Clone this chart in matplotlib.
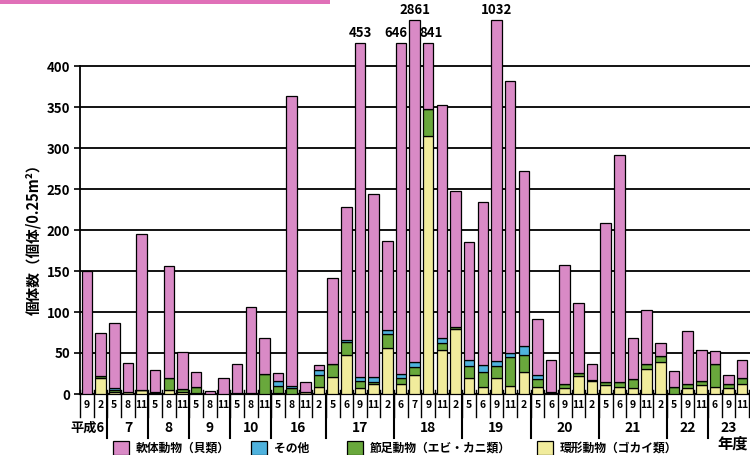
import numpy as np
import matplotlib
matplotlib.use('Agg')
import matplotlib.pyplot as plt
from matplotlib.patches import Rectangle

plt.rcParams['font.family'] = ['Noto Sans CJK JP', 'DejaVu Sans']

# 調査月と年度
months = ['9', '2', '5', '8', '11', '5', '8', '11', '5', '8', '11', '5', '8', '11',
          '5', '8', '11', '2', '5', '6', '9', '11', '2', '6', '7', '9', '11', '2',
          '5', '6', '9', '11', '2', '5', '6', '9', '11', '2', '5', '6', '9', '11', '2',
          '5', '9', '11', '6', '9', '11']
years = ['平成6', '7', '8', '9', '10', '16', '17', '18', '19', '20', '21', '22', '23']
year_n = [2, 3, 3, 3, 3, 4, 5, 5, 5, 5, 5, 3, 3]

# 個体数（個体/0.25m²）
kankei = [0, 20, 3, 2, 5, 1, 5, 2, 1, 0, 0, 0, 0, 0, 1, 0, 3, 9, 21, 48, 7, 12, 56, 12, 23,
          315, 54, 79, 19, 9, 20, 10, 27, 9, 1, 7, 22, 16, 11, 8, 7, 30, 39, 0, 7, 11, 8, 7, 12]
sessoku = [0, 2, 2, 0, 0, 1, 14, 4, 8, 0, 0, 1, 1, 24, 9, 7, 0, 14, 15, 16, 9, 3, 17, 8, 10,
           32, 8, 3, 15, 18, 14, 35, 20, 9, 1, 5, 4, 1, 4, 7, 11, 7, 7, 9, 5, 5, 29, 5, 8]
sonota = [0, 0, 2, 0, 0, 0, 0, 0, 0, 0, 0, 0, 0, 0, 6, 3, 0, 6, 0, 2, 5, 6, 5, 5, 6,
          0, 6, 0, 7, 8, 6, 5, 11, 5, 0, 0, 0, 0, 0, 0, 0, 0, 0, 0, 0, 0, 0, 0, 0]
nantai = [150, 53, 79, 36, 190, 27, 137, 45, 18, 4, 19, 36, 105, 44, 10, 353, 12, 6, 106, 162,
          432, 223, 109, 621, 2822, 494, 284, 166, 144, 199, 992, 332, 214, 69, 39, 145, 85, 20,
          194, 276, 50, 65, 16, 19, 65, 38, 16, 11, 21]

Y = np.array(kankei)
G = np.array(sessoku)
B = np.array(sonota)
P = np.array(nantai)
total = Y + G + B + P
# 400を超える棒は途中で切って数値を表示
shown = np.where(total > 1000, 456, np.where(total > 400, 428, total))
P_shown = shown - (Y + G + B)

c_pink = '#d98ac6'
c_blue = '#4fb2dd'
c_green = '#69a83c'
c_yellow = '#f1ec9c'

W, H = 750, 455
fig = plt.figure(figsize=(7.5, 4.55), dpi=100)
base = 394
ax = fig.add_axes([80 / W, (H - base) / H, (W - 80) / W, (base - 5) / H])
x = np.arange(len(months))

def fy(py):
    return (base - py) / (base - 5)

kw = dict(width=0.77, edgecolor='black', linewidth=0.9, zorder=3)
ax.bar(x, Y, color=c_yellow, **kw)
ax.bar(x, G, bottom=Y, color=c_green, **kw)
ax.bar(x, B, bottom=Y + G, color=c_blue, **kw)
ax.bar(x, P_shown, bottom=Y + G + B, color=c_pink, **kw)

n = len(months)
for i in np.where(total > 400)[0]:
    dx = 0.0
    if i + 1 < n and shown[i + 1] > shown[i]:
        dx -= 0.35
    if i > 0 and shown[i - 1] > shown[i]:
        dx += 0.2
    ax.text(x[i] + dx, shown[i] + 4, str(total[i]), ha='center', va='bottom',
            fontsize=9.5, fontweight='bold')

ax.set_xlim(-0.51, 48.57)
ax.set_ylim(0, (base - 5) / 0.82)
ax.set_yticks(range(0, 401, 50))
ax.set_yticklabels([str(v) for v in range(0, 401, 50)], fontsize=9.5, fontweight='bold')
ax.yaxis.grid(True, color='black', linewidth=1.3)
ax.set_axisbelow(True)
ax.set_xticks([])
for s in ['top', 'right']:
    ax.spines[s].set_visible(False)
ax.spines['left'].set_bounds(0, 400)
ax.spines['left'].set_linewidth(1.3)
ax.spines['bottom'].set_linewidth(1.6)
ax.tick_params(axis='y', length=4, width=1.2, pad=3)

tr = ax.get_xaxis_transform()
# 月のセル
for i, m in enumerate(months):
    ax.text(i, fy(405), m, transform=tr, ha='center', va='center',
            fontsize=7.5, fontweight='bold', clip_on=False)
for b in np.arange(-0.5, len(months) - 0.4, 1.0):
    ax.plot([b, b], [fy(390), fy(417)], transform=tr, color='black', lw=1.0, clip_on=False)

# 年度の区切りとラベル
edges = np.concatenate([[0], np.cumsum(year_n)]) - 0.5
for e in edges[1:-1]:
    ax.plot([e, e], [fy(394), fy(438)], transform=tr, color='black', lw=1.5, clip_on=False)
for k, yl in enumerate(years):
    if k == 0:
        ax.text(1.3, fy(428), yl, transform=tr, ha='right', va='center',
                fontsize=9.5, fontweight='bold', clip_on=False)
    else:
        ax.text((edges[k] + edges[k + 1]) / 2, fy(428), yl, transform=tr, ha='center',
                va='center', fontsize=10, fontweight='bold', clip_on=False)

ax.set_ylabel('個体数（個体/0.25m²）', fontsize=10.5, fontweight='bold')
ax.yaxis.set_label_coords(-0.058, fy(236))

# 凡例
leg = [(113, c_pink, '軟体動物（貝類）'), (251, c_blue, 'その他'),
       (347, c_green, '節足動物（エビ・カニ類）'), (537, c_yellow, '環形動物（ゴカイ類）')]
for px, col, lab in leg:
    fig.patches.append(Rectangle((px / W, 1 - 455 / H), 16 / W, 14 / H, transform=fig.transFigure,
                                 facecolor=col, edgecolor='black', linewidth=0.9))
    fig.text((px + 23) / W, 1 - 448 / H, lab, ha='left', va='center', fontsize=8.5,
             fontweight='bold')
fig.text(733 / W, 1 - 444 / H, '年度', ha='center', va='center', fontsize=11, fontweight='bold')

fig.patches.append(Rectangle((0, 1 - 4 / H), 330 / W, 4 / H, transform=fig.transFigure,
                             facecolor='#e070b8', edgecolor='none'))

fig.savefig('out.png', dpi=100)
